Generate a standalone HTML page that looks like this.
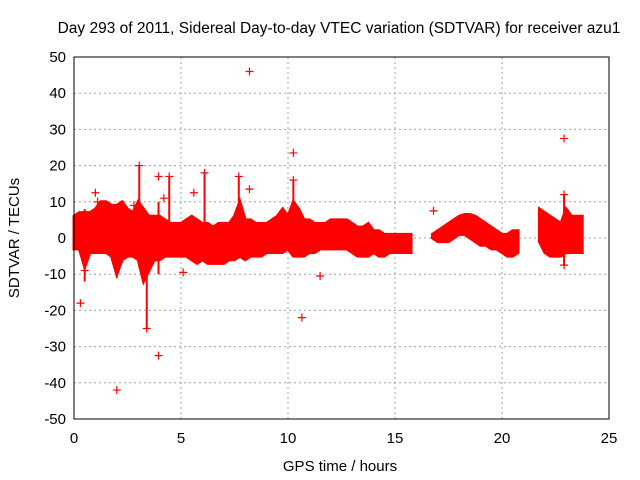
<!DOCTYPE html>
<html><head><meta charset="utf-8"><style>
body{margin:0;background:#fff}
svg{display:block;font-family:"Liberation Sans",sans-serif}
</style></head><body>
<svg width="640" height="480">
<text x="339" y="33" text-anchor="middle" font-size="15.5">Day 293 of 2011, Sidereal Day-to-day VTEC variation (SDTVAR) for receiver azu1</text>
<g id="grid"></g>
<g id="bands"></g>
<g id="pts"></g>
<rect x="74" y="57" width="535" height="362" fill="none" stroke="#000" stroke-width="1"/>
<g id="ticks"></g>
<text x="340" y="471" text-anchor="middle" font-size="15">GPS time / hours</text>
<text transform="translate(19,238) rotate(-90)" text-anchor="middle" font-size="15">SDTVAR / TECUs</text>
</svg>
<script>
const xTicks=[0,5,10,15,20,25];
const yTicks=[-50,-40,-30,-20,-10,0,10,20,30,40,50];
const seg1Start=0, seg1Upper=[6,7,7,7,8,10,10,9,9,10,8,7,10,8,6,6,6,5,4,4,4,5,6,5,4,4,3,4,4,4,6,10,5,5,4,4,4,5,6,8,6,10,8,5,5,4,4,4,5,5,5,5,4,3,3,4,2,2,1,1,1,1,1,1];
const seg1Lower=[-3,-3,-8,-4,-4,-4,-4,-5,-10,-6,-5,-5,-6,-12,-9,-6,-6,-5,-5,-5,-5,-5,-6,-7,-6,-7,-7,-7,-7,-6,-6,-5,-6,-5,-5,-5,-4,-4,-4,-4,-3,-5,-5,-5,-4,-4,-3,-3,-3,-3,-3,-3,-4,-5,-5,-5,-4,-5,-5,-4,-4,-4,-4,-4];
const seg2Start=16.75, seg2Upper=[1,2,3,4,5,6,6.5,6.5,6,5,4,3,2,1,1,2,2];
const seg2Lower=[0,-1,-1,-1,0,1,1,0,-1,-2,-2,-3,-3,-4,-5,-5,-4];
const seg3Start=21.75, seg3Upper=[8,7,6,5,4,8,6,6,6];
const seg3Lower=[-1,-4,-5,-5,-5,-4,-4,-4,-4];
const spikeX=[3.05,3.4,4.45,7.7,10.25,0.5,2.0,3.95,6.1,22.9];
const spikeTop=[20,5,17,17,16,8,9,10,18,12];
const spikeBottom=[0,-25,0,0,0,-12,-11,-10,0,-7.5];
const outX=[0.3,1.0,2.0,2.8,3.05,3.4,3.95,3.95,4.45,5.1,5.6,8.2,7.7,8.2,10.25,10.25,10.65,11.5,16.8,22.9,22.9,22.9,6.1,4.2,1.1,0.5];
const outY=[-18,12.5,-42,9,20,-25,-32.5,17,17,-9.5,12.5,46,17,13.5,23.5,16,-22,-10.5,7.5,27.5,12,-7.5,18,11,10,-9];
const X=v=>74+(v/25)*535, Y=v=>419-((v+50)/100)*362;
const NS="http://www.w3.org/2000/svg";
function mk(t,a,p){const e=document.createElementNS(NS,t);for(const k in a)e.setAttribute(k,a[k]);p.appendChild(e);return e;}
const grid=document.getElementById('grid'),ticks=document.getElementById('ticks');
xTicks.forEach(v=>{
 if(v>0&&v<25){const l=mk('line',{x1:X(v),x2:X(v),y1:57,y2:419,stroke:'#a0a0a0','stroke-dasharray':'2,3'},grid);
 }
 const t=mk('text',{x:X(v),y:443,'text-anchor':'middle','font-size':'15'},ticks);t.textContent=v;
 
});
yTicks.forEach(v=>{
 if(v>-50&&v<50){const l=mk('line',{x1:74,x2:609,y1:Y(v),y2:Y(v),stroke:'#a0a0a0','stroke-dasharray':'2,3'},grid);
 }
 const t=mk('text',{x:66,y:Y(v)+5,'text-anchor':'end','font-size':'15'},ticks);t.textContent=v;
 
});
const bands=document.getElementById('bands');
[[seg1Start,seg1Upper,seg1Lower],[seg2Start,seg2Upper,seg2Lower],[seg3Start,seg3Upper,seg3Lower]].forEach(([s,u,l])=>{
 let p=u.map((v,i)=>X(s+i*0.25)+','+Y(v));
 for(let i=l.length-1;i>=0;i--)p.push(X(s+i*0.25)+','+Y(l[i]));
 const g=mk('polygon',{points:p.join(' '),fill:'#ff0000',stroke:'#ff0000','stroke-width':'3'},bands);
 
});
spikeX.forEach((x,i)=>{
 const s=mk('line',{x1:X(x),x2:X(x),y1:Y(spikeTop[i]),y2:Y(spikeBottom[i]),stroke:'#ff0000','stroke-width':'2'},bands);
 
});
const pts=document.getElementById('pts');
outX.forEach((x,i)=>{
 const cx=X(x),cy=Y(outY[i]);
 const p=mk('path',{d:`M${cx-4},${cy}H${cx+4}M${cx},${cy-4}V${cy+4}`,stroke:'#ff0000','stroke-width':'1.2'},pts);
 
});
</script>
</body></html>
